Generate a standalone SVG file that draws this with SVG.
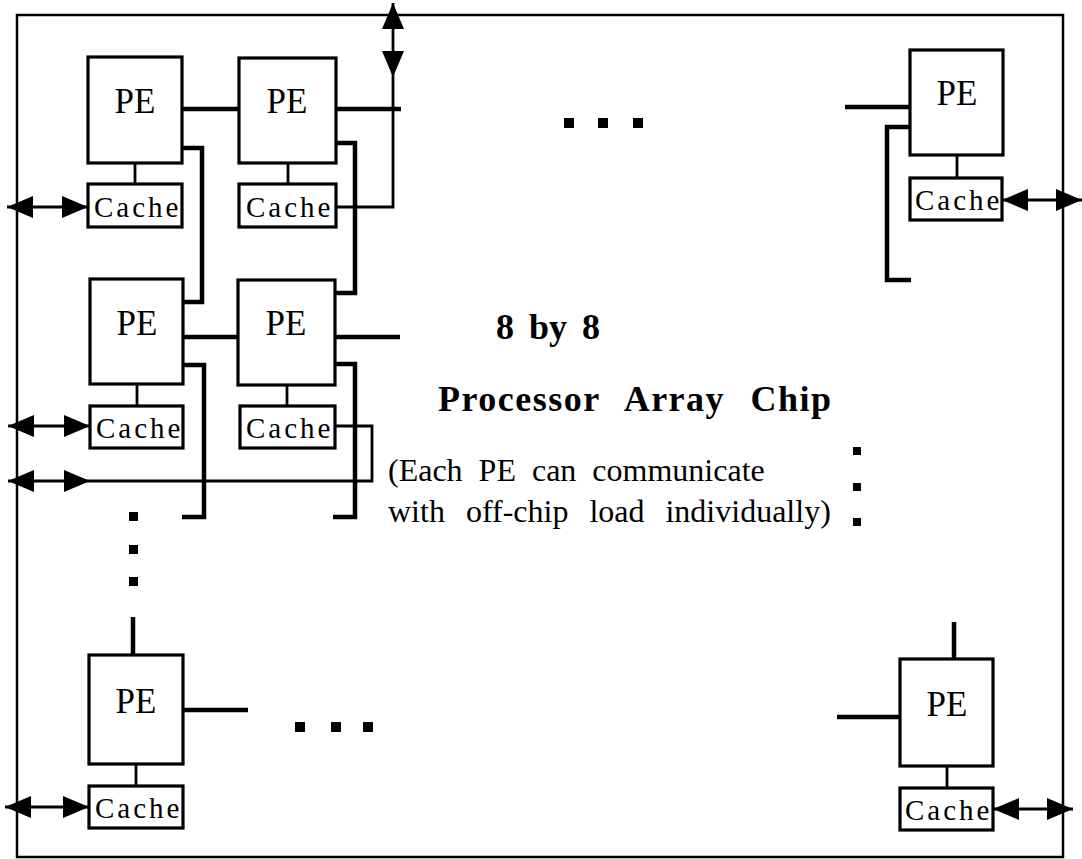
<svg xmlns="http://www.w3.org/2000/svg" width="1082" height="859" viewBox="0 0 1082 859">
<style>
.frame{fill:none;stroke:#000;stroke-width:2.5}
.box{fill:#fff;stroke:#000;stroke-width:3.2}
.thick{fill:none;stroke:#000;stroke-width:4.5;stroke-linejoin:miter}
.thin{fill:none;stroke:#000;stroke-width:2.8}
.pe{font-family:"Liberation Serif",serif;font-size:35px;text-anchor:middle;fill:#000}
.cache{font-family:"Liberation Serif",serif;font-size:29px;letter-spacing:3px;fill:#000}
.title{font-family:"Liberation Serif",serif;font-size:36px;font-weight:bold;fill:#000}
.note{font-family:"Liberation Serif",serif;font-size:32px;fill:#000}
.dot{fill:#000}
</style>
<defs>
<marker id="ah" markerUnits="userSpaceOnUse" markerWidth="28" markerHeight="24" refX="26" refY="11" orient="auto-start-reverse">
<path d="M0,0 L26,11 L0,22 z" fill="#000"/>
</marker>
</defs>
<rect class="frame" x="17" y="15" width="1046" height="842"/>
<g id="connectors">
<line class="thick" x1="182" y1="109" x2="239" y2="109"/>
<line class="thick" x1="336" y1="109" x2="401" y2="109"/>
<line class="thin" x1="393" y1="77" x2="393" y2="3" marker-start="url(#ah)" marker-end="url(#ah)"/>
<polyline class="thin" points="393,77 393,207 336,207"/>
<polyline class="thick" points="180,148 202,148 202,302 181,302"/>
<polyline class="thick" points="333,143 355,143 355,293 335,293"/>
<line class="thin" x1="135" y1="163" x2="135" y2="184"/>
<line class="thin" x1="288" y1="163" x2="288" y2="184"/>
<line class="thin" x1="7" y1="207" x2="88" y2="207" marker-start="url(#ah)" marker-end="url(#ah)"/>
<line class="thick" x1="183" y1="337" x2="238" y2="337"/>
<line class="thick" x1="335" y1="337" x2="400" y2="337"/>
<polyline class="thick" points="181,365 204,365 204,517 182,517"/>
<polyline class="thick" points="332,364 355,364 355,517 333,517"/>
<line class="thin" x1="137" y1="384" x2="137" y2="406"/>
<line class="thin" x1="287" y1="385" x2="287" y2="406"/>
<line class="thin" x1="8" y1="426" x2="90" y2="426" marker-start="url(#ah)" marker-end="url(#ah)"/>
<line class="thin" x1="8" y1="481" x2="90" y2="481" marker-start="url(#ah)" marker-end="url(#ah)"/>
<polyline class="thin" points="90,481 372,481 372,426 335,426"/>
<line class="thick" x1="845" y1="107" x2="910" y2="107"/>
<polyline class="thick" points="910,127 887,127 887,280 911,280"/>
<line class="thin" x1="957" y1="155" x2="957" y2="178"/>
<line class="thin" x1="1002" y1="200" x2="1082" y2="200" marker-start="url(#ah)" marker-end="url(#ah)"/>
<line class="thick" x1="133" y1="617" x2="133" y2="655"/>
<line class="thick" x1="183" y1="710" x2="248" y2="710"/>
<line class="thin" x1="136" y1="764" x2="136" y2="786"/>
<line class="thin" x1="5" y1="807" x2="89" y2="807" marker-start="url(#ah)" marker-end="url(#ah)"/>
<line class="thick" x1="954" y1="622" x2="954" y2="659"/>
<line class="thick" x1="837" y1="717" x2="900" y2="717"/>
<line class="thin" x1="947" y1="766" x2="947" y2="788"/>
<line class="thin" x1="993" y1="809" x2="1073" y2="809" marker-start="url(#ah)" marker-end="url(#ah)"/>
</g>
<g id="pe1"><rect class="box" x="88" y="57" width="94" height="106"/><text class="pe" x="135" y="113">PE</text></g>
<g id="cache1"><rect class="box" x="88" y="184" width="94" height="43"/><text class="cache" x="94" y="217">Cache</text></g>
<g id="pe2"><rect class="box" x="239" y="58" width="97" height="105"/><text class="pe" x="287" y="113">PE</text></g>
<g id="cache2"><rect class="box" x="239" y="184" width="97" height="43"/><text class="cache" x="246" y="217">Cache</text></g>
<g id="pe3"><rect class="box" x="90" y="279" width="93" height="105"/><text class="pe" x="137" y="335">PE</text></g>
<g id="cache3"><rect class="box" x="90" y="406" width="93" height="42"/><text class="cache" x="96" y="438">Cache</text></g>
<g id="pe4"><rect class="box" x="238" y="280" width="97" height="105"/><text class="pe" x="286" y="335">PE</text></g>
<g id="cache4"><rect class="box" x="240" y="406" width="95" height="42"/><text class="cache" x="246" y="438">Cache</text></g>
<g id="pe5"><rect class="box" x="89" y="655" width="94" height="109"/><text class="pe" x="136" y="713">PE</text></g>
<g id="cache5"><rect class="box" x="89" y="786" width="94" height="42"/><text class="cache" x="95" y="818">Cache</text></g>
<g id="pe6"><rect class="box" x="910" y="50" width="93" height="105"/><text class="pe" x="957" y="105">PE</text></g>
<g id="cache6"><rect class="box" x="910" y="178" width="92" height="42"/><text class="cache" x="915" y="210">Cache</text></g>
<g id="pe7"><rect class="box" x="900" y="659" width="93" height="107"/><text class="pe" x="947" y="716">PE</text></g>
<g id="cache7"><rect class="box" x="900" y="788" width="93" height="42"/><text class="cache" x="905" y="820">Cache</text></g>
<g id="dots">
<rect class="dot" x="564" y="118" width="10" height="10"/>
<rect class="dot" x="598" y="118" width="10" height="10"/>
<rect class="dot" x="633" y="118" width="10" height="10"/>
<rect class="dot" x="295" y="722" width="10" height="10"/>
<rect class="dot" x="331" y="722" width="10" height="10"/>
<rect class="dot" x="363" y="722" width="10" height="10"/>
<rect class="dot" x="129" y="512" width="9" height="9"/>
<rect class="dot" x="129" y="545" width="9" height="9"/>
<rect class="dot" x="129" y="577" width="9" height="9"/>
<rect class="dot" x="853" y="447" width="8" height="8"/>
<rect class="dot" x="853" y="483" width="8" height="8"/>
<rect class="dot" x="853" y="518" width="8" height="8"/>
</g>
<g id="labels">
<text class="title" x="496" y="339" word-spacing="6">8 by 8</text>
<text class="title" x="438" y="411" letter-spacing="1.5" word-spacing="15">Processor Array Chip</text>
<text class="note" x="388" y="481" word-spacing="8">(Each PE can communicate</text>
<text class="note" x="388" y="522" word-spacing="13">with off-chip load individually)</text>
</g>
</svg>
